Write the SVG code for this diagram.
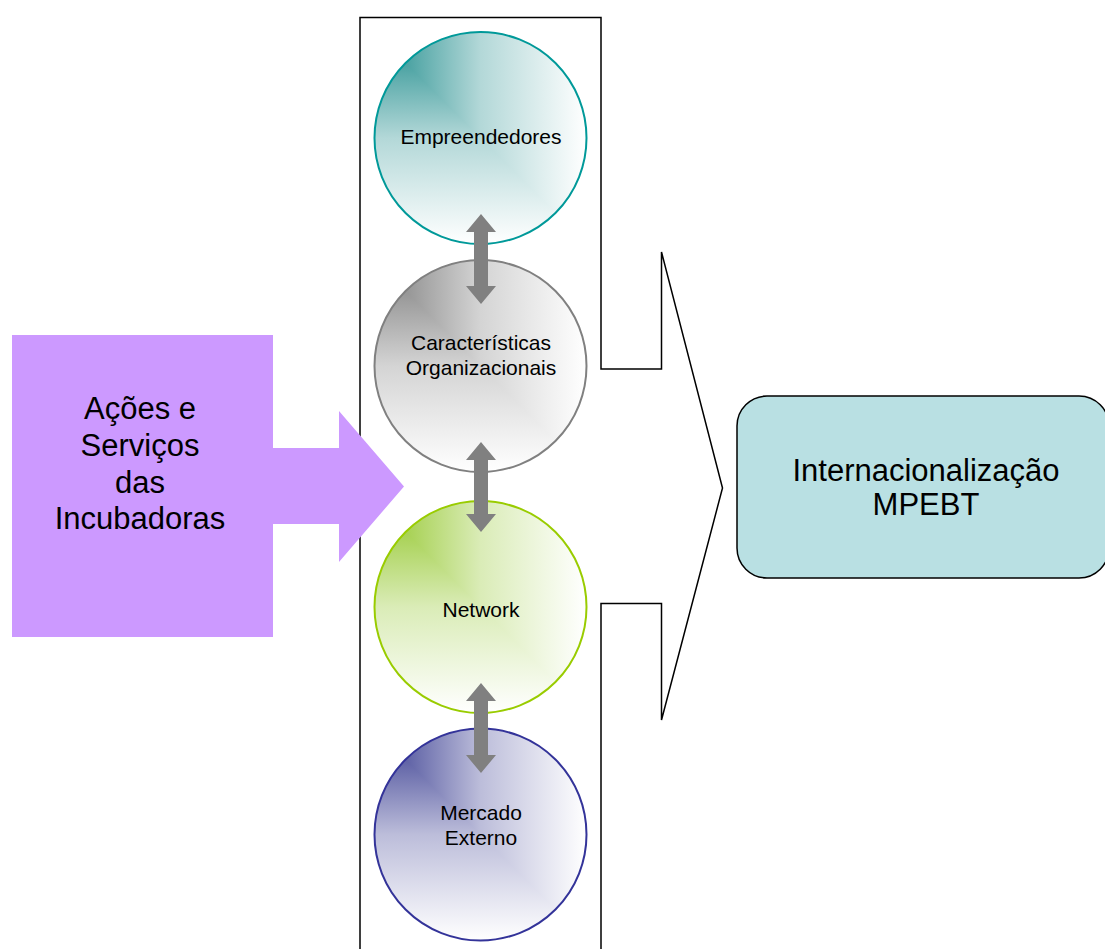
<svg xmlns="http://www.w3.org/2000/svg" width="1105" height="949" viewBox="0 0 1105 949">
<style>
  text { font-family: "Liberation Sans", Arial, sans-serif; fill: #000; text-anchor: middle; }
  .small { font-size: 21px; }
  .big { font-size: 31px; }
  .ring { fill: none; stroke-width: 2; }
  .dbl { fill: #808080; }
</style>
<defs>
  <clipPath id="upperRight" clipPathUnits="objectBoundingBox"><polygon points="0,0 1,0 1,1"/></clipPath>
  <linearGradient id="tealH" x1="0" y1="0" x2="1" y2="0"><stop offset="0" stop-color="#1f8c8c"/><stop offset="0.5" stop-color="#b3d8d8"/><stop offset="1" stop-color="#ffffff"/></linearGradient>
  <linearGradient id="tealV" x1="0" y1="0" x2="0" y2="1"><stop offset="0" stop-color="#1f8c8c"/><stop offset="0.5" stop-color="#b3d8d8"/><stop offset="1" stop-color="#ffffff"/></linearGradient>
  <linearGradient id="grayH" x1="0" y1="0" x2="1" y2="0"><stop offset="0" stop-color="#7c7c7c"/><stop offset="0.5" stop-color="#d4d4d4"/><stop offset="1" stop-color="#ffffff"/></linearGradient>
  <linearGradient id="grayV" x1="0" y1="0" x2="0" y2="1"><stop offset="0" stop-color="#7c7c7c"/><stop offset="0.5" stop-color="#d4d4d4"/><stop offset="1" stop-color="#ffffff"/></linearGradient>
  <linearGradient id="greenH" x1="0" y1="0" x2="1" y2="0"><stop offset="0" stop-color="#92c62a"/><stop offset="0.5" stop-color="#daecb7"/><stop offset="1" stop-color="#ffffff"/></linearGradient>
  <linearGradient id="greenV" x1="0" y1="0" x2="0" y2="1"><stop offset="0" stop-color="#92c62a"/><stop offset="0.5" stop-color="#daecb7"/><stop offset="1" stop-color="#ffffff"/></linearGradient>
  <linearGradient id="blueH" x1="0" y1="0" x2="1" y2="0"><stop offset="0" stop-color="#383c90"/><stop offset="0.5" stop-color="#bcbdda"/><stop offset="1" stop-color="#ffffff"/></linearGradient>
  <linearGradient id="blueV" x1="0" y1="0" x2="0" y2="1"><stop offset="0" stop-color="#383c90"/><stop offset="0.5" stop-color="#bcbdda"/><stop offset="1" stop-color="#ffffff"/></linearGradient>
</defs>

<g id="container">
  <path d="M360,949 L360,17.5 L601,17.5 L601,369 L661.5,369 L661.5,252 L722.5,488 L661.5,720 L661.5,603.5 L601,603.5 L601,949" fill="none" stroke="#000" stroke-width="1.5"/>
</g>

<g id="acoes">
  <path d="M12,335 L273,335 L273,448 L339,448 L339,411 L404,486.5 L339,562 L339,524 L273,524 L273,637 L12,637 Z" fill="#CC99FF"/>
  <text class="big" x="140" y="419">Ações e</text>
  <text class="big" x="140" y="456">Serviços</text>
  <text class="big" x="140" y="493">das</text>
  <text class="big" x="140" y="529">Incubadoras</text>
</g>

<g id="empreendedores">
  <circle cx="480.5" cy="138" r="106" fill="url(#tealV)"/>
  <circle cx="480.5" cy="138" r="106" fill="url(#tealH)" clip-path="url(#upperRight)"/>
  <circle class="ring" cx="480.5" cy="138" r="106" stroke="#009999"/>
  <text class="small" x="481" y="144">Empreendedores</text>
</g>

<g id="caracteristicas">
  <circle cx="480.5" cy="366" r="106" fill="url(#grayV)"/>
  <circle cx="480.5" cy="366" r="106" fill="url(#grayH)" clip-path="url(#upperRight)"/>
  <circle class="ring" cx="480.5" cy="366" r="106" stroke="#808080"/>
  <text class="small" x="481" y="350">Características</text>
  <text class="small" x="481" y="375">Organizacionais</text>
</g>

<g id="network">
  <circle cx="480.5" cy="607" r="106" fill="url(#greenV)"/>
  <circle cx="480.5" cy="607" r="106" fill="url(#greenH)" clip-path="url(#upperRight)"/>
  <circle class="ring" cx="480.5" cy="607" r="106" stroke="#99CC00"/>
  <text class="small" x="481" y="617">Network</text>
</g>

<g id="mercado">
  <circle cx="480.5" cy="834.5" r="106" fill="url(#blueV)"/>
  <circle cx="480.5" cy="834.5" r="106" fill="url(#blueH)" clip-path="url(#upperRight)"/>
  <circle class="ring" cx="480.5" cy="834.5" r="106" stroke="#333399"/>
  <text class="small" x="481" y="820">Mercado</text>
  <text class="small" x="481" y="844.5">Externo</text>
</g>

<g id="connectors">
  <polygon class="dbl" points="481,214 496,232 488,232 488,286 496,286 481,304 466,286 474,286 474,232 466,232"/>
  <polygon class="dbl" points="481,442 496,460 488,460 488,514 496,514 481,532 466,514 474,514 474,460 466,460"/>
  <polygon class="dbl" points="481,683 496,701 488,701 488,755 496,755 481,773 466,755 474,755 474,701 466,701"/>
</g>

<g id="internacionalizacao">
  <rect x="737" y="396" width="372" height="182" rx="30" ry="30" fill="#B9E0E3" stroke="#000" stroke-width="1.5"/>
  <text class="big" x="926" y="481">Internacionalização</text>
  <text class="big" x="926" y="515">MPEBT</text>
</g>
</svg>
